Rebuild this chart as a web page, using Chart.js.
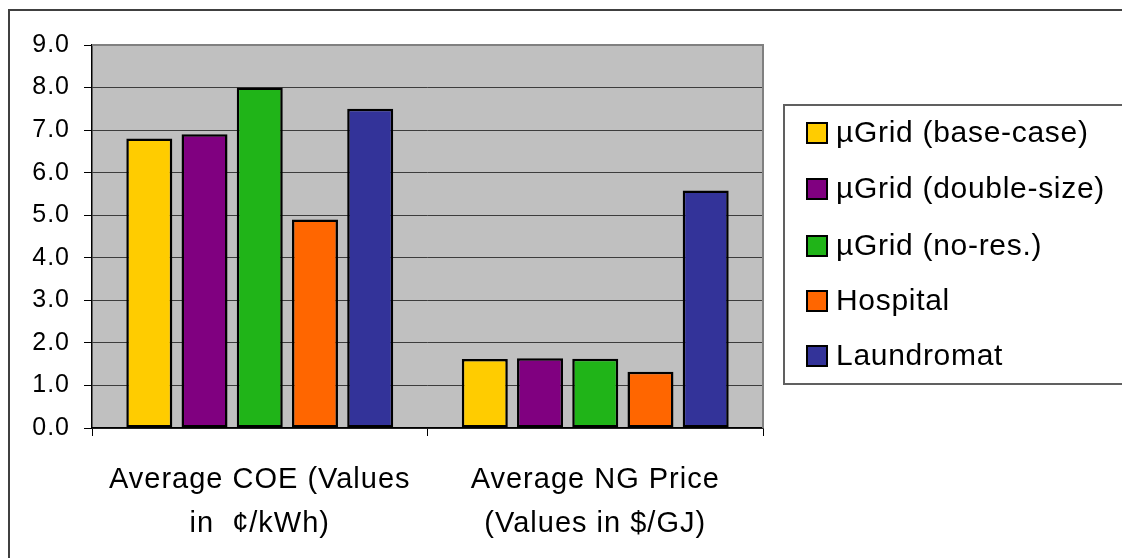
<!DOCTYPE html>
<html>
<head>
<meta charset="utf-8">
<script src="https://cdn.jsdelivr.net/npm/chart.js@4.4.1/dist/chart.umd.min.js"></script>
<style>
  html, body { margin: 0; padding: 0; background: #fff; }
  canvas { display: block; }
</style>
</head>
<body>
<canvas id="c" width="1122" height="558"></canvas>
<script>
// Category labels (two lines each)
const categories = [
  ["Average COE (Values", "in  \u00a2/kWh)"],
  ["Average NG Price", "(Values in $/GJ)"]
];

// Series values: [COE, NG price]
const baseCase   = [6.8, 1.62];
const doubleSize = [6.9, 1.64];
const noRes      = [8.0, 1.63];
const hospital   = [4.9, 1.32];
const laundromat = [7.5, 5.58];

const seriesNames  = ["\u00b5Grid (base-case)", "\u00b5Grid (double-size)", "\u00b5Grid (no-res.)", "Hospital", "Laundromat"];
const seriesColors = ["#FFCC00", "#800080", "#20B418", "#FF6600", "#333399"];
const seriesValues = [baseCase, doubleSize, noRes, hospital, laundromat];

// Y axis range
const yMin = 0, yMax = 9, yStep = 1;

const FONT = "'Liberation Sans', Arial, Helvetica, sans-serif";

// Background, frames and legend box
const framePlugin = {
  id: 'frame',
  beforeDraw(chart) {
    const { ctx, chartArea: a } = chart;
    ctx.save();
    ctx.fillStyle = '#ffffff';
    ctx.fillRect(0, 0, chart.width, chart.height);
    ctx.fillStyle = '#C0C0C0';
    ctx.fillRect(a.left, a.top, a.right - a.left, a.bottom - a.top);
    ctx.restore();
    ctx.letterSpacing = '1px';
  },
  afterDraw(chart) {
    const { ctx, chartArea: a } = chart;
    ctx.save();
    // plot area top / right edge
    ctx.strokeStyle = '#808080';
    ctx.lineWidth = 2;
    ctx.beginPath();
    ctx.moveTo(a.left, a.top);
    ctx.lineTo(a.right, a.top);
    ctx.lineTo(a.right, a.bottom);
    ctx.stroke();

    // outer chart frame
    ctx.strokeStyle = '#404040';
    ctx.lineWidth = 2;
    ctx.strokeRect(9, 10, 1300, 700);

    // legend
    const lx = 784, ly = 105, lh = 279;
    ctx.strokeStyle = '#606060';
    ctx.lineWidth = 2;
    ctx.strokeRect(lx, ly, 400, lh);
    ctx.font = '30px ' + FONT;
    ctx.letterSpacing = '0.7px';
    ctx.textBaseline = 'middle';
    ctx.textAlign = 'left';
    const rowY = [133, 189, 246, 301, 356];
    chart.data.datasets.forEach((ds, i) => {
      const cy = rowY[i];
      ctx.fillStyle = ds.backgroundColor;
      ctx.fillRect(807, cy - 10, 20, 20);
      ctx.strokeStyle = '#000';
      ctx.lineWidth = 2;
      ctx.strokeRect(807, cy - 10, 20, 20);
      ctx.fillStyle = '#000';
      ctx.fillText(ds.label, 836, cy + 1);
    });
    ctx.restore();
  }
};

new Chart(document.getElementById('c'), {
  type: 'bar',
  data: {
    labels: categories,
    datasets: seriesNames.map((name, i) => ({
      label: name,
      data: seriesValues[i],
      backgroundColor: seriesColors[i],
      borderColor: '#000000',
      borderWidth: 2.5,
      borderSkipped: false,
      categoryPercentage: 0.823,
      barPercentage: 0.833
    }))
  },
  options: {
    responsive: false,
    animation: false,
    devicePixelRatio: 1,
    layout: { padding: { top: 45, right: 359, left: 0, bottom: 0 } },
    plugins: {
      legend: { display: false },
      tooltip: { enabled: false }
    },
    scales: {
      y: {
        min: yMin,
        max: yMax,
        ticks: {
          stepSize: yStep,
          color: '#000',
          font: { family: FONT, size: 25 },
          padding: 14,
          callback: v => Number(v).toFixed(1)
        },
        grid: {
          color: '#3c3c3c',
          lineWidth: 1,
          tickColor: '#000',
          tickLength: 8
        },
        border: { color: '#000', width: 1.5 },
        afterFit(scale) { scale.width = 92; }
      },
      x: {
        ticks: {
          color: '#000',
          font: { family: FONT, size: 29, lineHeight: 1.52 },
          padding: 22,
          maxRotation: 0,
          autoSkip: false
        },
        grid: {
          display: true,
          drawOnChartArea: false,
          tickColor: '#000',
          tickLength: 8,
          offset: true
        },
        border: { color: '#000', width: 1.5 },
        afterFit(scale) { scale.height = 130; }
      }
    }
  },
  plugins: [framePlugin]
});
</script>
</body>
</html>
